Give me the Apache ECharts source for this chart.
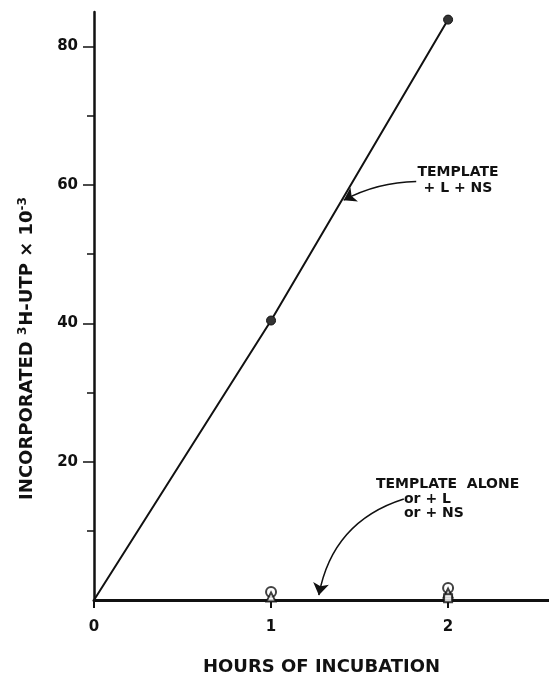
<!DOCTYPE html>
<html>
<head>
<meta charset="utf-8">
<script src="https://cdn.jsdelivr.net/npm/echarts@6/dist/echarts.min.js"></script>
<style>
  html, body { margin: 0; padding: 0; background: #fff; }
  #chart { width: 549px; height: 676px; }
</style>
</head>
<body>
<div id="chart"></div>
<script>
  // hours of incubation
  var hours = [0, 1, 2];
  // template + L + NS
  var fullValues = [0, 40.4, 83.9];
  // template alone / + L / + NS (all near zero)
  var aloneValues = [0, 1.15, 1.75];
  var plusLValues = [0, 0.45, 1.0];
  var plusNSValues = [0, -0.2, 0.25];

  // axis ticks
  var xTicks = [0, 1, 2];
  var yMajorTicks = [20, 40, 60, 80];
  var yMinorTicks = [10, 30, 50, 70];

  // annotation arrows, [from, to] in data units
  var arrowFull = [[1.82, 60.5], [1.41, 57.8]];
  var arrowAlone = [[1.75, 14.6], [1.27, 0.7]];

  var FONT = 'DejaVu Sans';
  var INK = '#111';

  function pairs(vals) {
    var out = [];
    for (var i = 0; i < hours.length; i++) out.push([hours[i], vals[i]]);
    return out;
  }

  function markerSeries(name, vals, symbol, size) {
    return {
      name: name,
      type: 'scatter',
      data: pairs(vals).slice(1),
      symbol: symbol,
      symbolSize: size,
      itemStyle: { color: '#fff', borderColor: INK, borderWidth: 2 },
      z: 5
    };
  }

  var chart = echarts.init(document.getElementById('chart'));

  var fullData = pairs(fullValues);
  fullData[0] = { value: fullData[0], symbol: 'none' };   // no marker at origin

  var option = {
    animation: false,
    backgroundColor: '#fff',
    grid: { left: 94, right: 0, top: 12, bottom: 76, outerBoundsMode: 'none' },
    xAxis: {
      type: 'value',
      min: 0,
      max: 2.57,
      interval: 1,
      name: 'HOURS OF INCUBATION',
      nameLocation: 'middle',
      nameGap: 58,
      nameTextStyle: { fontFamily: FONT, fontWeight: 'bold', fontSize: 18, color: INK },
      axisLine: { onZero: false, lineStyle: { color: INK, width: 3 } },
      axisTick: { length: 8, customValues: xTicks, lineStyle: { color: INK, width: 2 } },
      axisLabel: {
        margin: 20, customValues: xTicks,
        fontFamily: FONT, fontWeight: 'bold', fontSize: 15, color: INK
      },
      splitLine: { show: false }
    },
    yAxis: [
      {
        type: 'value',
        min: 0,
        max: 85,
        interval: 20,
        axisLine: { onZero: false, lineStyle: { color: INK, width: 2.5 } },
        axisTick: { length: 11, customValues: yMajorTicks, lineStyle: { color: INK, width: 1.5 } },
        axisLabel: {
          margin: 16, customValues: yMajorTicks,
          fontFamily: FONT, fontWeight: 'bold', fontSize: 15, color: INK
        },
        splitLine: { show: false }
      },
      {
        // minor ticks only
        type: 'value',
        position: 'left',
        min: 0,
        max: 85,
        interval: 10,
        axisLine: { show: false },
        axisTick: { length: 7, customValues: yMinorTicks, lineStyle: { color: INK, width: 1.5 } },
        axisLabel: { show: false },
        splitLine: { show: false }
      }
    ],
    graphic: [
      {
        type: 'text',
        x: 27, y: 348,
        rotation: Math.PI / 2,
        style: {
          text: 'INCORPORATED {sup|3}H-UTP × 10{sup|-3}',
          font: 'bold 18px "' + FONT + '"',
          fill: INK,
          align: 'center',
          verticalAlign: 'middle',
          rich: {
            sup: { font: 'bold 12px "' + FONT + '"', fill: INK, verticalAlign: 'top', padding: [0, 1, 9, 0] }
          }
        }
      },
      {
        type: 'text',
        x: 458, y: 164,
        style: {
          text: 'TEMPLATE\n+ L + NS',
          font: 'bold 14px "' + FONT + '"',
          fill: INK, align: 'center', verticalAlign: 'top', lineHeight: 16
        }
      },
      {
        type: 'text',
        x: 376, y: 476,
        style: {
          text: 'TEMPLATE  ALONE',
          font: 'bold 14px "' + FONT + '"',
          fill: INK, align: 'left', verticalAlign: 'top', lineHeight: 16
        }
      },
      {
        type: 'text',
        x: 404, y: 492,
        style: {
          text: 'or + L\nor + NS',
          font: 'bold 14px "' + FONT + '"',
          fill: INK, align: 'left', verticalAlign: 'top', lineHeight: 14
        }
      }
    ],
    series: [
      {
        name: 'TEMPLATE + L + NS',
        type: 'line',
        data: fullData,
        symbol: 'circle',
        symbolSize: 9,
        showSymbol: true,
        itemStyle: { color: '#333', borderColor: INK, borderWidth: 1 },
        lineStyle: { color: INK, width: 2 },
        z: 4
      },
      markerSeries('TEMPLATE ALONE', aloneValues, 'circle', 10),
      markerSeries('+ L', plusLValues, 'triangle', 9),
      markerSeries('+ NS', plusNSValues, 'rect', 8),
      {
        name: 'arrows',
        type: 'lines',
        coordinateSystem: 'cartesian2d',
        silent: true,
        symbol: ['none', 'arrow'],
        symbolSize: 12,
        lineStyle: { color: INK, width: 1.5, opacity: 1 },
        data: [
          { coords: arrowFull, lineStyle: { curveness: -0.12 } },
          { coords: arrowAlone, lineStyle: { curveness: -0.3 } }
        ],
        z: 6
      }
    ]
  };

  chart.setOption(option);
</script>
</body>
</html>
